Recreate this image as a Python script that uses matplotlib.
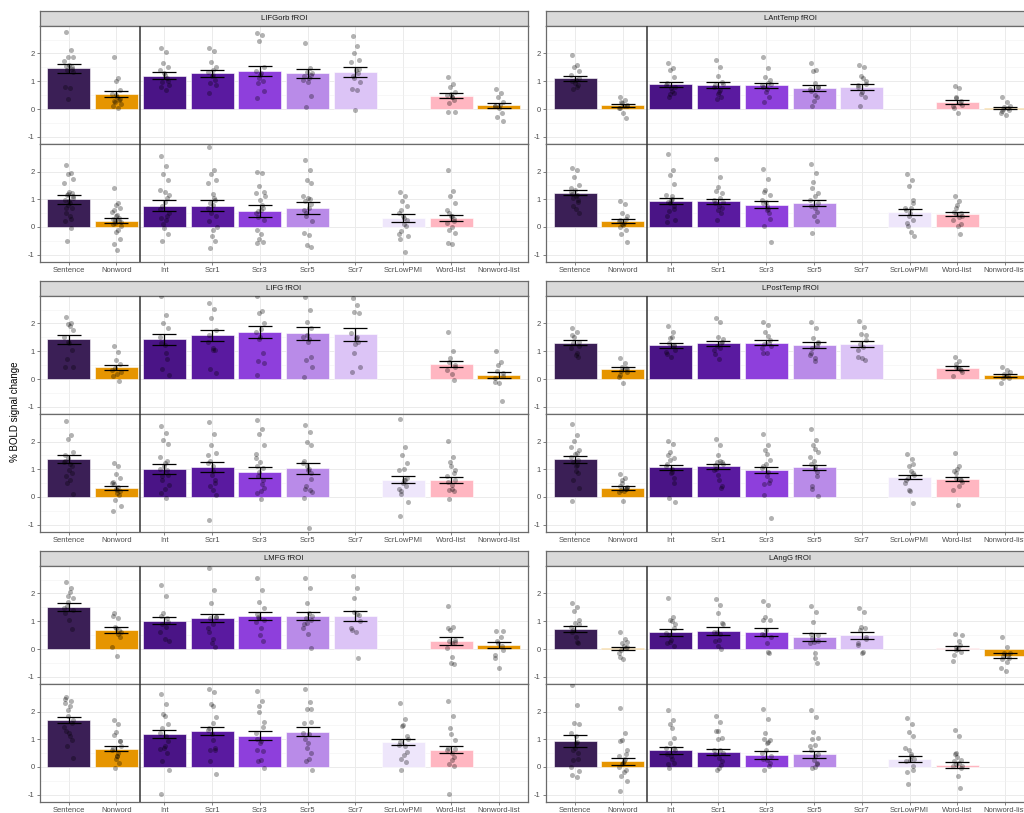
import numpy as np
import matplotlib
matplotlib.use('Agg')
import matplotlib.pyplot as plt

plt.rcParams['font.family'] = ['Liberation Sans', 'DejaVu Sans']

conds = ['Sentence', 'Nonword', 'Int', 'Scr1', 'Scr3', 'Scr5', 'Scr7',
         'ScrLowPMI', 'Word-list', 'Nonword-list']
colors = ['#3B1F56', '#E69500', '#4A1486', '#5A1AA0', '#8E3FDC', '#B98BE8',
          '#DCC4F6', '#EEE6FB', '#FFB6C1', '#E69500']

# ---- LIFGorb
lifgorb_e1_mean = [1.46, 0.54, 1.20, 1.28, 1.37, 1.29, 1.34, None, 0.47, 0.14]
lifgorb_e1_se = [0.15, 0.12, 0.12, 0.13, 0.17, 0.16, 0.17, None, 0.09, 0.09]
lifgorb_e1_pts = [
    [2.76, 2.12, 1.88, 1.86, 1.72, 1.60, 1.50, 1.42, 1.35, 0.78, 0.76, 0.36, 1.45, 1.55],
    [1.88, 1.10, 1.02, 0.70, 0.55, 0.45, 0.32, 0.26, 0.18, 0.12, 0.02, 0.50, 0.35, 0.28],
    [2.18, 2.06, 1.64, 1.52, 1.40, 1.22, 1.10, 0.98, 0.86, 0.78, 0.70, 1.30, 1.00],
    [2.20, 2.10, 1.70, 1.52, 1.34, 1.22, 1.04, 0.92, 0.86, 0.59, 1.40, 1.20],
    [2.72, 2.68, 2.44, 1.52, 1.36, 1.22, 1.00, 0.92, 0.66, 0.40, 1.30, 1.10],
    [2.38, 1.46, 1.34, 1.22, 1.04, 0.96, 0.47, 0.06, 1.30, 1.20, 1.10],
    [2.62, 2.28, 2.00, 1.76, 1.70, 1.40, 1.28, 1.10, 0.98, 0.71, 0.68, -0.04, 1.45, 1.20],
    [],
    [1.16, 0.90, 0.78, 0.62, 0.50, 0.44, 0.32, 0.20, -0.10, -0.12, 0.45, 0.55],
    [0.71, 0.58, 0.44, 0.26, 0.11, 0.02, -0.16, -0.28, -0.42, 0.10, 0.15],
]
lifgorb_e2_mean = [1.00, 0.23, 0.77, 0.77, 0.58, 0.69, None, 0.32, 0.33, None]
lifgorb_e2_se = [0.16, 0.08, 0.19, 0.20, 0.21, 0.21, None, 0.15, 0.11, None]
lifgorb_e2_pts = [
    [2.23, 1.95, 1.92, 1.75, 1.60, 1.28, 1.22, 1.15, 1.05, 0.98, 0.88, 0.80, 0.68, 0.50, 0.40, 0.20,
     -0.04, -0.51, 1.10, 0.95, 0.70, 0.30, 1.20],
    [1.39, 0.88, 0.80, 0.68, 0.55, 0.44, 0.32, 0.24, 0.18, 0.12, -0.10, -0.18, -0.45, -0.63, -0.83,
     0.30, 0.22, 0.15, 0.05, 0.40, 0.60],
    [2.56, 2.22, 1.93, 1.70, 1.33, 1.27, 1.04, 0.74, 0.50, 0.32, 0.26, -0.04, -0.27, -0.51,
     0.90, 0.65, 0.40, 0.10, 1.15],
    [2.88, 2.07, 1.93, 1.70, 1.60, 1.20, 0.97, 0.86, 0.38, 0.20, -0.10, -0.33, -0.51, -0.75,
     0.80, 0.70, 1.05, 0.50, 0.00],
    [1.99, 1.94, 1.48, 1.27, 1.24, 0.98, 0.68, 0.56, 0.26, -0.10, -0.27, -0.45, -0.55, -0.57,
     0.60, 0.50, 0.80, 0.35, 1.10],
    [2.43, 2.07, 1.71, 1.60, 1.12, 1.04, 0.83, 0.50, 0.20, -0.21, -0.30, -0.67, -0.71,
     0.95, 0.70, 0.60, 1.00, 0.40],
    [],
    [1.27, 1.10, 0.92, 0.74, 0.50, 0.32, 0.02, -0.15, -0.33, -0.45, -0.90, 0.40, 0.25, 0.60, 0.10, -0.25],
    [2.05, 1.30, 1.10, 0.86, 0.62, 0.38, 0.20, -0.10, -0.21, -0.60, -0.62, 0.40, 0.30, 0.50, 0.00, 0.15],
    [],
]

# ---- LAntTemp
lanttemp_e1_mean = [1.10, 0.13, 0.89, 0.87, 0.85, 0.75, 0.80, None, 0.26, 0.04]
lanttemp_e1_se = [0.09, 0.06, 0.10, 0.10, 0.10, 0.10, 0.10, None, 0.08, 0.05]
lanttemp_e1_pts = [
    [1.94, 1.58, 1.52, 1.38, 1.22, 1.04, 0.86, 0.71, 1.10, 1.00, 0.80, 0.95],
    [0.42, 0.32, 0.20, 0.11, 0.02, -0.16, -0.31, 0.25, 0.15, 0.05, 0.10],
    [1.66, 1.46, 1.40, 1.14, 0.86, 0.74, 0.59, 0.44, 0.80, 0.95, 0.65, 0.55],
    [1.78, 1.52, 1.19, 0.98, 0.78, 0.62, 0.44, 0.36, 0.90, 0.85, 0.70, 0.55],
    [1.88, 1.46, 1.16, 1.04, 0.86, 0.71, 0.44, 0.24, 0.90, 0.80, 0.95, 0.60],
    [1.64, 1.40, 1.36, 0.78, 0.71, 0.50, 0.44, 0.11, 0.80, 0.65, 0.95, 0.30],
    [1.60, 1.52, 1.19, 1.00, 0.78, 0.62, 0.44, 0.11, 0.90, 0.85, 1.10, 0.55],
    [],
    [0.83, 0.74, 0.44, 0.30, 0.11, -0.13, 0.20, 0.40, 0.15, 0.05],
    [0.42, 0.26, 0.08, -0.04, -0.13, -0.22, 0.05, 0.00, 0.12, -0.08],
]
lanttemp_e2_mean = [1.24, 0.20, 0.93, 0.93, 0.81, 0.85, None, 0.54, 0.46, None]
lanttemp_e2_se = [0.08, 0.07, 0.10, 0.09, 0.11, 0.11, None, 0.10, 0.07, None]
lanttemp_e2_pts = [
    [2.13, 2.05, 1.81, 1.51, 1.27, 1.10, 0.98, 0.74, 0.52, 1.20, 1.15, 1.35, 0.90, 1.05, 0.65, 1.40],
    [0.92, 0.83, 0.50, 0.38, 0.20, 0.08, -0.10, -0.27, -0.54, 0.25, 0.15, 0.10, 0.30, 0.00],
    [2.62, 2.05, 1.87, 1.54, 1.15, 0.98, 0.74, 0.56, 0.26, 0.18, 1.00, 0.85, 0.65, 0.90, 1.10, 0.40],
    [2.44, 1.81, 1.45, 1.21, 0.98, 0.74, 0.50, 0.26, 0.90, 0.85, 1.05, 0.60, 0.70, 1.30],
    [2.11, 1.75, 1.33, 1.15, 0.98, 0.74, 0.50, 0.02, -0.54, 0.85, 0.65, 0.90, 0.30, 1.25, 0.60],
    [2.29, 1.95, 1.63, 1.24, 0.98, 0.68, 0.20, -0.21, 0.85, 0.75, 1.10, 0.40, 0.55, 1.40],
    [],
    [1.93, 1.69, 1.48, 0.98, 0.68, 0.50, 0.26, 0.02, -0.33, 0.60, 0.70, 0.40, 0.85, 0.15, -0.20],
    [1.12, 0.92, 0.68, 0.50, 0.26, 0.02, -0.27, 0.45, 0.40, 0.55, 0.35, 0.80, 0.10],
    [],
]

# ---- LIFG
lifg_e1_mean = [1.43, 0.42, 1.43, 1.57, 1.68, 1.64, 1.61, None, 0.53, 0.16]
lifg_e1_se = [0.16, 0.09, 0.20, 0.19, 0.22, 0.22, 0.23, None, 0.11, 0.11]
lifg_e1_pts = [
    [2.24, 2.00, 1.98, 1.76, 1.52, 1.28, 1.04, 0.71, 0.44, 0.42, 1.90, 1.35],
    [1.19, 0.98, 0.68, 0.53, 0.32, 0.17, -0.07, 0.40, 0.25, 0.10],
    [2.98, 2.32, 2.02, 1.82, 1.52, 1.22, 0.71, 0.36, 0.14, 1.30, 0.95],
    [2.75, 2.51, 2.18, 1.76, 1.34, 1.10, 1.04, 0.35, 0.23, 1.60, 1.05],
    [2.98, 2.46, 2.36, 2.00, 1.70, 1.52, 0.92, 0.66, 0.59, 0.13, 1.80, 1.45],
    [2.96, 2.48, 2.04, 1.82, 1.52, 1.34, 0.80, 0.68, 0.44, 0.06, 1.45, 1.60],
    [2.90, 2.66, 2.40, 2.38, 1.66, 1.48, 1.34, 0.92, 0.44, 0.26, 1.50, 1.25],
    [],
    [1.68, 1.00, 0.74, 0.50, 0.32, 0.18, -0.04, 0.60, 0.45],
    [1.00, 0.62, 0.50, 0.20, 0.02, -0.16, -0.79, 0.30, 0.10, -0.10],
]
lifg_e2_mean = [1.37, 0.32, 1.01, 1.07, 0.89, 1.04, None, 0.62, 0.60, None]
lifg_e2_se = [0.15, 0.08, 0.19, 0.18, 0.20, 0.20, None, 0.13, 0.11, None]
lifg_e2_pts = [
    [2.74, 2.25, 2.10, 1.63, 1.27, 0.98, 0.86, 0.50, 0.11, 1.30, 1.20, 1.40, 1.10, 0.75, 0.60, 1.50],
    [1.24, 1.12, 0.83, 0.68, 0.50, 0.26, 0.08, -0.10, -0.33, -0.51, 0.35, 0.30, 0.20, 0.45, 0.15, 0.55],
    [2.56, 2.31, 2.05, 1.93, 1.45, 1.21, 0.98, 0.74, 0.44, 0.14, -0.04, 1.10, 0.80, 0.60, 0.30, 1.00, 1.30],
    [2.70, 2.29, 1.89, 1.60, 1.21, 0.92, 0.62, 0.38, 0.08, -0.83, 1.10, 0.80, 0.50, 1.30, 0.25, 1.50],
    [2.80, 2.46, 2.29, 1.89, 1.57, 1.27, 1.04, 0.74, 0.32, 0.14, -0.07, 0.90, 0.60, 1.10, 0.20, 1.40, 0.45],
    [2.61, 2.35, 1.99, 1.87, 1.21, 0.98, 0.64, 0.38, 0.17, -0.04, -1.14, 1.10, 0.85, 0.30, 1.00, 1.30, 0.25],
    [],
    [2.82, 1.81, 1.51, 1.21, 0.98, 0.62, 0.38, 0.20, -0.19, -0.69, 0.60, 0.50, 0.70, 0.10, 1.00, 0.30],
    [2.01, 1.45, 1.27, 0.98, 0.74, 0.44, 0.20, -0.07, 0.60, 0.55, 0.30, 1.10, 0.85, 0.25],
    [],
]

# ---- LPostTemp
lposttemp_e1_mean = [1.31, 0.36, 1.22, 1.28, 1.31, 1.21, 1.27, None, 0.40, 0.13]
lposttemp_e1_se = [0.09, 0.07, 0.09, 0.10, 0.09, 0.11, 0.11, None, 0.06, 0.05]
lposttemp_e1_pts = [
    [1.84, 1.70, 1.52, 1.34, 1.10, 0.86, 0.78, 1.30, 1.20, 1.60, 0.95],
    [0.77, 0.59, 0.44, 0.26, 0.06, -0.16, 0.40, 0.30, 0.35, 0.15],
    [1.92, 1.70, 1.46, 1.22, 0.98, 0.78, 1.20, 1.30, 1.05, 0.90, 1.50],
    [2.18, 2.06, 1.52, 1.34, 1.04, 0.71, 1.30, 1.20, 1.45, 0.90, 1.10],
    [2.04, 1.94, 1.70, 1.40, 1.10, 0.92, 1.30, 1.25, 1.20, 0.95, 1.55],
    [2.06, 1.82, 1.46, 1.28, 0.86, 0.66, 1.20, 1.10, 1.35, 0.95, 0.75],
    [2.08, 1.88, 1.62, 1.40, 1.04, 0.74, 0.68, 1.25, 1.60, 0.80, 1.15],
    [],
    [0.78, 0.66, 0.44, 0.32, 0.11, 0.40, 0.35, 0.55, 0.25],
    [0.44, 0.32, 0.18, 0.02, -0.13, 0.10, 0.15, 0.05, 0.25],
]
lposttemp_e2_mean = [1.36, 0.32, 1.07, 1.10, 0.98, 1.07, None, 0.71, 0.64, None]
lposttemp_e2_se = [0.12, 0.06, 0.10, 0.09, 0.10, 0.10, None, 0.08, 0.07, None]
lposttemp_e2_pts = [
    [2.64, 2.25, 2.02, 1.69, 1.45, 1.10, 0.86, 0.62, 0.32, -0.15, 1.60, 1.55, 1.35, 1.25, 0.95, 1.80, 1.15],
    [0.83, 0.68, 0.50, 0.32, 0.17, -0.15, 0.30, 0.25, 0.35, 0.40, 0.20, 0.60, 0.28],
    [2.01, 1.93, 1.63, 1.39, 1.10, 0.86, 0.50, -0.04, -0.19, 1.20, 1.00, 1.35, 0.70, 1.50, 0.90],
    [2.10, 1.87, 1.51, 1.27, 0.98, 0.62, 0.32, 1.25, 1.20, 1.15, 1.30, 0.80, 0.40, 1.00],
    [2.26, 1.87, 1.69, 1.33, 1.04, 0.74, 0.50, 0.08, -0.76, 1.10, 0.90, 1.20, 0.60, 0.45, 1.55],
    [2.44, 2.07, 1.87, 1.63, 1.45, 1.10, 0.74, 0.38, 0.05, 1.20, 1.00, 1.30, 0.90, 0.30, 1.75],
    [],
    [1.57, 1.36, 1.10, 0.86, 0.50, 0.20, -0.21, 0.70, 0.80, 0.60, 0.95, 0.25, 1.20],
    [1.60, 1.10, 0.86, 0.62, 0.26, -0.30, 0.65, 0.70, 0.55, 0.95, 0.40, 1.00],
    [],
]

# ---- LMFG
lmfg_e1_mean = [1.52, 0.68, 1.02, 1.11, 1.20, 1.19, 1.19, None, 0.28, 0.14]
lmfg_e1_se = [0.14, 0.10, 0.12, 0.15, 0.15, 0.16, 0.18, None, 0.14, 0.10]
lmfg_e1_pts = [
    [2.40, 2.18, 1.90, 1.82, 1.46, 1.04, 0.71, 1.55, 1.40, 1.30, 2.05, 1.70],
    [1.30, 1.10, 0.74, 0.44, 0.06, -0.24, 0.70, 0.80, 0.60, 1.20, 0.55],
    [2.30, 1.90, 1.30, 0.98, 0.62, 0.35, 1.10, 0.90, 0.30, 1.20, 0.80],
    [2.90, 2.12, 1.64, 1.16, 0.74, 0.36, 0.08, 1.10, 1.15, 0.60, 0.90, 0.20],
    [2.57, 2.12, 1.70, 1.46, 0.98, 0.50, 0.30, 1.15, 1.05, 1.25, 0.75, 1.10],
    [2.57, 2.18, 1.66, 1.04, 0.74, 0.54, 0.05, 1.10, 1.20, 0.90, 1.30, 0.95],
    [2.62, 2.18, 1.82, 1.22, 0.74, 0.62, -0.34, 1.35, 1.00, 0.70, 1.25],
    [],
    [1.54, 0.80, 0.68, 0.32, 0.02, -0.30, -0.54, 0.30, 0.25, 0.75, 0.20, -0.50],
    [0.66, 0.42, 0.20, -0.04, -0.34, -0.68, 0.10, 0.30, 0.65, -0.20],
]
lmfg_e2_mean = [1.69, 0.65, 1.18, 1.30, 1.13, 1.27, None, 0.90, 0.62, None]
lmfg_e2_se = [0.11, 0.09, 0.15, 0.15, 0.16, 0.16, None, 0.11, 0.12, None]
lmfg_e2_pts = [
    [2.52, 2.37, 2.05, 1.69, 1.45, 1.21, 0.98, 0.74, 0.32, 2.45, 2.20, 1.85, 1.60, 1.30, 1.10, 2.30],
    [1.69, 1.57, 1.27, 0.92, 0.62, 0.38, 0.14, -0.04, 0.75, 0.70, 0.50, 0.30, 0.95, 1.15, 0.40],
    [2.62, 2.29, 1.93, 1.57, 1.21, 0.74, 0.50, 0.20, -0.12, -0.99, 1.10, 0.70, 0.95, 1.40, 1.85, 0.65],
    [2.82, 2.70, 2.29, 1.81, 1.33, 0.98, 0.62, 0.20, -0.27, 1.40, 2.20, 1.20, 0.70, 0.60, 1.60],
    [2.74, 2.40, 1.99, 1.63, 1.21, 0.86, 0.56, 0.20, -0.04, 1.00, 0.95, 2.20, 1.45, 0.60, 0.25],
    [2.82, 2.35, 2.11, 1.63, 1.21, 0.86, 0.50, 0.20, -0.10, 1.60, 1.20, 0.70, 2.10, 1.00, 0.30],
    [],
    [2.31, 1.75, 1.48, 1.10, 0.80, 0.44, 0.17, -0.12, 1.00, 0.90, 0.75, 1.50, 0.55, 0.30],
    [2.40, 1.83, 1.39, 0.98, 0.62, 0.26, 0.02, -0.99, 0.65, 0.70, 0.50, 1.20, 0.35, 0.10],
    [],
]

# ---- LAngG
langg_e1_mean = [0.72, 0.03, 0.60, 0.65, 0.61, 0.44, 0.50, None, 0.04, -0.24]
langg_e1_se = [0.11, 0.06, 0.12, 0.13, 0.15, 0.14, 0.13, None, 0.08, 0.09]
langg_e1_pts = [
    [1.66, 1.52, 1.37, 1.04, 0.80, 0.44, 0.20, 0.70, 0.90, 0.60, 0.25, 0.95],
    [0.62, 0.35, 0.20, 0.06, -0.16, -0.37, 0.05, -0.05, 0.25, -0.30, 0.10],
    [1.84, 1.16, 1.04, 0.74, 0.56, 0.32, 0.11, 0.50, 0.90, 0.20, 1.00, 0.25],
    [1.80, 1.60, 1.28, 0.92, 0.62, 0.32, 0.00, 0.60, 0.90, 0.30, 0.55, 0.10],
    [1.72, 1.60, 1.16, 1.04, 0.54, 0.20, -0.16, 0.50, 0.45, 1.05, -0.10, 0.70],
    [1.56, 1.34, 0.98, 0.50, 0.20, -0.34, -0.49, 0.40, 0.30, 0.55, -0.15, 0.25],
    [1.46, 1.34, 0.78, 0.44, 0.14, -0.13, 0.75, 0.70, 0.35, 0.20, -0.10],
    [],
    [0.53, 0.30, 0.08, -0.10, -0.43, 0.00, 0.15, -0.05, 0.50, -0.20],
    [0.42, 0.08, -0.16, -0.34, -0.69, -0.79, -0.20, -0.25, -0.15, -0.35, -0.45],
]
langg_e2_mean = [0.94, 0.20, 0.60, 0.54, 0.43, 0.46, None, 0.29, 0.07, None]
langg_e2_se = [0.21, 0.12, 0.13, 0.12, 0.16, 0.13, None, 0.11, 0.12, None]
langg_e2_pts = [
    [2.98, 2.25, 1.60, 1.54, 1.21, 0.86, 0.50, 0.26, -0.15, -0.31, 0.90, 0.70, 0.30, 0.60, 1.10, 0.00, -0.35],
    [2.14, 1.21, 0.98, 0.62, 0.38, 0.14, -0.10, -0.33, -0.51, -0.89, 0.20, 0.10, 0.45, 0.95, -0.20, 0.00, 0.30],
    [2.05, 1.69, 1.54, 1.04, 0.68, 0.38, 0.14, -0.04, 0.60, 0.45, 0.30, 0.85, 0.70, 0.10, 1.40],
    [1.83, 1.63, 1.31, 1.04, 0.62, 0.32, 0.08, -0.13, 0.50, 0.45, 0.60, 1.00, 0.20, 1.30, -0.05],
    [2.08, 1.75, 1.24, 0.98, 0.50, 0.26, 0.02, -0.10, 0.40, 0.30, 0.90, 0.60, 0.15, 1.00, 0.85],
    [2.05, 1.81, 1.27, 1.04, 0.74, 0.38, 0.14, -0.04, 0.45, 0.60, 0.80, 0.25, 0.10, 1.00, 0.00],
    [],
    [1.77, 1.54, 1.27, 1.10, 0.68, 0.26, -0.10, -0.61, 0.30, 0.20, 0.45, 0.60, 0.05, -0.20, 0.40],
    [1.33, 1.10, 0.50, 0.26, 0.02, -0.33, -0.75, 0.10, 0.05, 0.20, 0.15, 0.35, -0.05, 0.45],
    [],
]

# fixed horizontal spread for the dots
jit = [-0.06, 0.04, -0.02, 0.08, -0.09, 0.01, 0.06, -0.04, 0.09, -0.07, 0.03, -0.01,
       0.07, -0.05, 0.02, -0.08, 0.05, -0.03, 0.10, 0.00]

W, H = 1024, 813
fig = plt.figure(figsize=(W / 100, H / 100), dpi=100)

BORDER = '#6b6b6b'


def fax(x0, y0, w, h):
    return fig.add_axes([x0 / W, 1 - (y0 + h) / H, w / W, h / H])


def draw_sub(ax, means, ses, pts, show_x):
    x = np.arange(len(conds))
    ax.set_xlim(-0.6, len(conds) - 0.4)
    ax.set_ylim(-1.26, 3.0)
    ax.set_yticks([-1, 0, 1, 2])
    ax.set_yticks([-0.5, 0.5, 1.5, 2.5], minor=True)
    ax.set_xticks(x)
    ax.grid(which='major', color='#EBEBEB', lw=0.7)
    ax.grid(which='minor', axis='y', color='#F2F2F2', lw=0.4)
    ax.set_axisbelow(True)
    for i, m in enumerate(means):
        if m is None:
            continue
        ax.bar(x[i], m, width=0.9, color=colors[i], edgecolor='white', lw=0.4, zorder=2)
        ys = pts[i]
        xs = [x[i] + jit[k % len(jit)] for k in range(len(ys))]
        ax.scatter(xs, ys, s=13, color='black', alpha=0.3, lw=0, zorder=3)
        ax.errorbar(x[i], m, yerr=ses[i], color='black', lw=0.9, capsize=8.5,
                    capthick=0.9, zorder=4)
    ax.axvline(1.5, color='#333333', lw=1.1, zorder=5)
    ax.tick_params(axis='y', labelsize=5.5, colors='#4D4D4D', length=2.5, width=0.5, pad=1.5)
    ax.tick_params(axis='y', which='minor', length=0)
    ax.tick_params(axis='x', labelsize=5.5, colors='#4D4D4D', length=2.5, width=0.5, pad=1.5)
    ax.set_yticklabels(['-1', '0', '1', '2'])
    if show_x:
        ax.set_xticklabels(conds)
    else:
        ax.set_xticklabels([])
        ax.tick_params(axis='x', length=0)
    for sp in ax.spines.values():
        sp.set_color(BORDER)
        sp.set_linewidth(0.9)


def draw_roi(x0, y0, title, e1m, e1s, e1p, e2m, e2s, e2p):
    pw = 487.5
    strip = fax(x0, y0, pw, 15)
    strip.set_facecolor('#D9D9D9')
    strip.set_xticks([])
    strip.set_yticks([])
    for sp in strip.spines.values():
        sp.set_color(BORDER)
        sp.set_linewidth(0.9)
    strip.text(0.5, 0.5, title, ha='center', va='center', fontsize=5.6, color='#1A1A1A',
               transform=strip.transAxes)
    top = fax(x0, y0 + 15, pw, 118.3)
    bot = fax(x0, y0 + 133.3, pw, 117.7)
    draw_sub(top, e1m, e1s, e1p, False)
    draw_sub(bot, e2m, e2s, e2p, True)


draw_roi(40, 10.7, 'LIFGorb fROI', lifgorb_e1_mean, lifgorb_e1_se, lifgorb_e1_pts,
         lifgorb_e2_mean, lifgorb_e2_se, lifgorb_e2_pts)
draw_roi(546.4, 10.7, 'LAntTemp fROI', lanttemp_e1_mean, lanttemp_e1_se, lanttemp_e1_pts,
         lanttemp_e2_mean, lanttemp_e2_se, lanttemp_e2_pts)
draw_roi(40, 280.7, 'LIFG fROI', lifg_e1_mean, lifg_e1_se, lifg_e1_pts,
         lifg_e2_mean, lifg_e2_se, lifg_e2_pts)
draw_roi(546.4, 280.7, 'LPostTemp fROI', lposttemp_e1_mean, lposttemp_e1_se, lposttemp_e1_pts,
         lposttemp_e2_mean, lposttemp_e2_se, lposttemp_e2_pts)
draw_roi(40, 550.7, 'LMFG fROI', lmfg_e1_mean, lmfg_e1_se, lmfg_e1_pts,
         lmfg_e2_mean, lmfg_e2_se, lmfg_e2_pts)
draw_roi(546.4, 550.7, 'LAngG fROI', langg_e1_mean, langg_e1_se, langg_e1_pts,
         langg_e2_mean, langg_e2_se, langg_e2_pts)

fig.text(15 / W, 1 - 412 / H, '% BOLD signal change', rotation=90, ha='center', va='center',
         fontsize=7, color='black')

fig.savefig('out.png', dpi=100)
